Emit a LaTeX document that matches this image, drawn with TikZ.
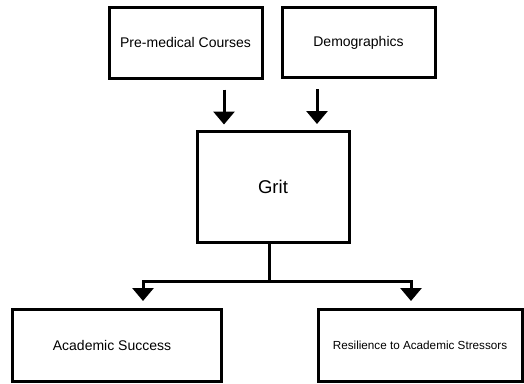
\documentclass[tikz,border=0pt]{standalone}
\usepackage{fontspec}
\setmainfont{Liberation Sans}
\usetikzlibrary{arrows.meta}

\begin{document}
\begin{tikzpicture}[x=1pt, y=-1pt, line width=3pt,
  box/.style={draw, rectangle, align=center, inner sep=0pt},
  arr/.style={line width=3pt, -{Triangle[width=21pt,length=13pt]}}]
\useasboundingbox (0,0) rectangle (524,383);
%
\node[box, minimum width=153pt, minimum height=71pt, font=\fontsize{14}{16}\selectfont] (premed) at (185.5,42.5) {Pre-medical Courses};
\node[box, minimum width=153pt, minimum height=70pt, font=\fontsize{14}{16}\selectfont] (demo) at (358.5,42.5) {Demographics};
\node[box, minimum width=152pt, minimum height=111pt, font=\fontsize{18.5}{22}\selectfont] (grit) at (273,186.5) {Grit};
\node[box, minimum width=209pt, minimum height=72pt, font=\fontsize{14}{17}\selectfont] (success) at (116.5,345.5) {\hspace*{-9pt}Academic Success};
\node[box, minimum width=204pt, minimum height=72pt, font=\fontsize{11.7}{14}\selectfont] (resil) at (420,345.5) {Resilience to Academic Stressors};
%
\draw[arr] ([xshift=38.5pt,yshift=-10pt]premed.south) -- ++(0,35);
\draw[arr] ([xshift=-41.5pt,yshift=-10pt]demo.south) -- ++(0,35);
%
\draw ([xshift=-4pt]grit.south) -- ++(0,38) coordinate (split);
\draw[arr] (split) -| ([xshift=26.5pt,yshift=7pt]success.north);
\draw[arr] (split) -| ([xshift=-9pt,yshift=7pt]resil.north);
\end{tikzpicture}
\end{document}
